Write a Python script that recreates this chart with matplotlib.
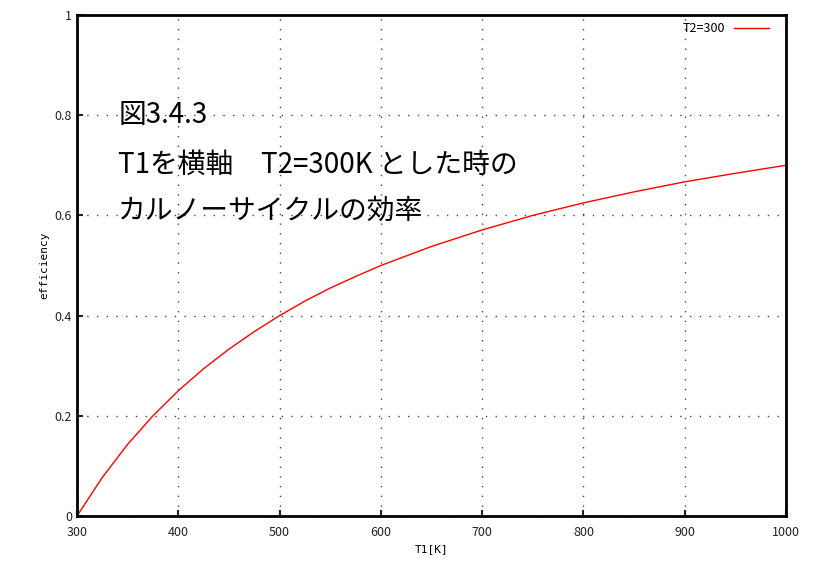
import matplotlib.pyplot as plt

plt.rcParams['font.family'] = ['Noto Sans CJK JP', 'DejaVu Sans']

# values
t1 = [300, 325, 350, 375, 400, 425, 450, 475, 500, 525, 550, 575, 600,
      650, 700, 750, 800, 850, 900, 950, 1000]
eff = [0.0, 0.077, 0.143, 0.2, 0.25, 0.294, 0.333, 0.368, 0.4, 0.429,
       0.455, 0.478, 0.5, 0.538, 0.571, 0.6, 0.625, 0.647, 0.667, 0.684, 0.7]
xticks = [300, 400, 500, 600, 700, 800, 900, 1000]
yticks = [0, 0.2, 0.4, 0.6, 0.8, 1]
yticklabels = ['0', '0.2', '0.4', '0.6', '0.8', '1']

fig = plt.figure(figsize=(8.17, 5.69), dpi=100)
ax = fig.add_axes([77 / 817, 53 / 569, 709 / 817, 501 / 569])

ax.plot(t1, eff, color='red', linewidth=1, label='T2=300')
ax.set_xlim(300, 1000)
ax.set_ylim(0, 1)
ax.set_xticks(xticks)
ax.set_yticks(yticks)
ax.set_yticklabels(yticklabels)
ax.tick_params(direction='in', length=4, width=1.5, labelsize=9, colors='#222222')
ax.tick_params(axis='x', pad=7)
ax.grid(True, linestyle=(0, (1, 6)), color='#444444', linewidth=1)
for s in ax.spines.values():
    s.set_linewidth(2)

ax.set_xlabel('T1[K]', fontsize=8, family='DejaVu Sans Mono')
ax.set_ylabel('efficiency', fontsize=8, family='DejaVu Sans Mono')

leg = ax.legend(loc='upper right', bbox_to_anchor=(1 - 10 / 709, 1),
                frameon=False, fontsize=9, markerfirst=False,
                handlelength=2.8, borderaxespad=0.2, handletextpad=0.65)

ax.text(0.058, 0.80, '図3.4.3', transform=ax.transAxes, fontsize=20, va='center')
ax.text(0.058, 0.70, 'T1を横軸　T2=300K とした時の', transform=ax.transAxes,
        fontsize=20, va='center')
ax.text(0.058, 0.61, 'カルノーサイクルの効率', transform=ax.transAxes,
        fontsize=20, va='center')

fig.savefig('out.png', dpi=100)
